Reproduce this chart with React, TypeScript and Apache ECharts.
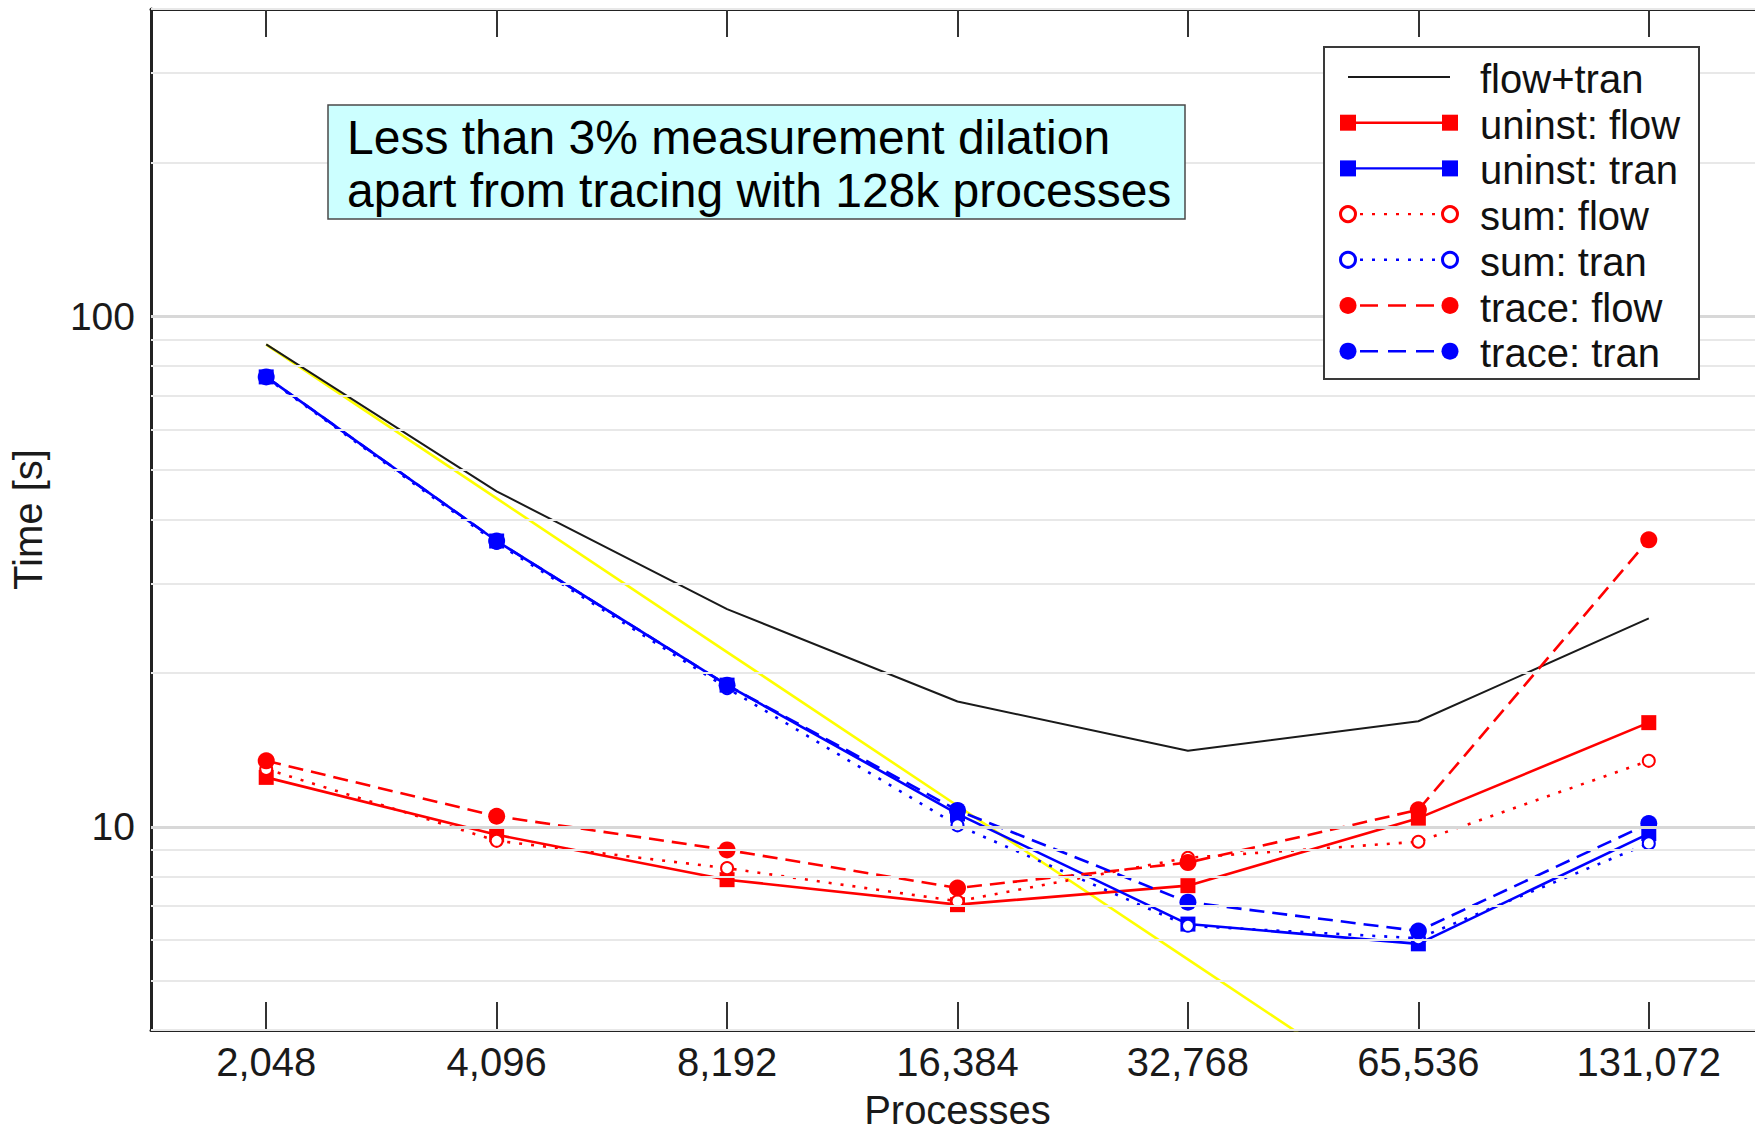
import React, { useEffect, useRef } from "react";
import * as echarts from "echarts";

// ---------------- data ----------------
const categories = ["2,048", "4,096", "8,192", "16,384", "32,768", "65,536", "131,072"];
const flowTran = [88.1, 45.4, 26.7, 17.6, 14.1, 16.1, 25.6];
const idealScaling = [88, 44, 22, 11, 5.5, 2.75];
const uninstFlow = [12.5, 9.65, 7.88, 7.04, 7.67, 10.4, 16.0];
const uninstTran = [76.1, 36.3, 18.95, 10.6, 6.45, 5.9, 9.7];
const sumFlow = [12.98, 9.39, 8.3, 7.15, 8.7, 9.35, 13.47];
const sumTran = [75.8, 36.0, 18.7, 10.07, 6.4, 6.05, 9.28];
const traceFlow = [13.47, 10.49, 9.01, 7.59, 8.51, 10.8, 36.5];
const traceTran = [76.1, 36.3, 18.95, 10.77, 7.12, 6.25, 10.15];
const yLabelTicks = [10, 100];
const yMinorGrid = [4, 5, 6, 7, 8, 9, 20, 30, 40, 50, 60, 70, 80, 90, 200, 300, 400];
const annotationLines = [
  "Less than 3% measurement dilation",
  "apart from tracing with 128k processes",
];
const xAxisName = "Processes";
const yAxisName = "Time [s]";

// ---------------- styles ----------------
const FONT = '"Liberation Sans", Arial, Helvetica, sans-serif';
const RED = "#ff0000";
const BLUE = "#0000ff";
const BLACK = "#1a1a1a";
const DASH = [15, 8];
const DOT = [3, 9];
const TOP_Z = 100;

type Def = {
  name: string;
  data: number[];
  color: string;
  dash: number[] | null;
  marker: "none" | "square" | "dot" | "ring";
  width: number;
};

const seriesDefs: Def[] = [
  { name: "flow+tran", data: flowTran, color: BLACK, dash: null, marker: "none", width: 2 },
  { name: "uninst: flow", data: uninstFlow, color: RED, dash: null, marker: "square", width: 2.6 },
  { name: "uninst: tran", data: uninstTran, color: BLUE, dash: null, marker: "square", width: 2.6 },
  { name: "sum: flow", data: sumFlow, color: RED, dash: DOT, marker: "ring", width: 2.6 },
  { name: "sum: tran", data: sumTran, color: BLUE, dash: DOT, marker: "ring", width: 2.6 },
  { name: "trace: flow", data: traceFlow, color: RED, dash: DASH, marker: "dot", width: 2.6 },
  { name: "trace: tran", data: traceTran, color: BLUE, dash: DASH, marker: "dot", width: 2.6 },
];

function symbolFor(m: Def["marker"]) {
  if (m === "square") return { symbol: "rect", symbolSize: 15 };
  if (m === "dot") return { symbol: "circle", symbolSize: 17 };
  if (m === "ring") return { symbol: "emptyCircle", symbolSize: 12 };
  return { symbol: "none", symbolSize: 0 };
}

function buildLegend() {
  const box = { x: 1324, y: 47, w: 375, h: 332 };
  const rowY0 = 77;
  const rowStep = 45.7;
  const x1 = 1348;
  const x2 = 1450;
  const els: any[] = [
    {
      type: "rect",
      z: TOP_Z,
      shape: { x: box.x, y: box.y, width: box.w, height: box.h },
      style: { fill: "#ffffff", stroke: "#3a3a3a", lineWidth: 2 },
    },
  ];
  seriesDefs.forEach((d, i) => {
    const y = rowY0 + i * rowStep;
    els.push({
      type: "line",
      z: TOP_Z + 1,
      shape: { x1, y1: y, x2, y2: y },
      style: {
        stroke: d.color,
        lineWidth: d.marker === "none" ? 2 : 2.4,
        lineDash: d.dash ? (d.dash === DASH ? [18, 10] : [3, 9]) : null,
        lineDashOffset: d.dash === DASH ? -12 : 0,
      },
    });
    [x1, x2].forEach((cx) => {
      if (d.marker === "square") {
        els.push({
          type: "rect",
          z: TOP_Z + 2,
          shape: { x: cx - 8, y: y - 8, width: 16, height: 16 },
          style: { fill: d.color },
        });
      } else if (d.marker === "dot") {
        els.push({ type: "circle", z: TOP_Z + 2, shape: { cx, cy: y, r: 8.5 }, style: { fill: d.color } });
      } else if (d.marker === "ring") {
        els.push({
          type: "circle",
          z: TOP_Z + 2,
          shape: { cx, cy: y, r: 7.5 },
          style: { fill: "#ffffff", stroke: d.color, lineWidth: 3 },
        });
      }
    });
    els.push({
      type: "text",
      z: TOP_Z + 2,
      x: 1480,
      y: y + 2,
      style: {
        text: d.name,
        fontSize: 40,
        fontFamily: FONT,
        fill: "#111111",
        verticalAlign: "middle",
        align: "left",
      },
    });
  });
  return els;
}

function buildAnnotation() {
  return [
    {
      type: "rect",
      z: TOP_Z,
      shape: { x: 328, y: 105, width: 857, height: 114 },
      style: { fill: "#ccffff", stroke: "#4a4a4a", lineWidth: 1.5 },
    },
    ...annotationLines.map((t, i) => ({
      type: "text",
      z: TOP_Z + 1,
      x: 347,
      y: 137 + i * 53.5,
      style: {
        text: t,
        fontSize: 48,
        fontFamily: FONT,
        fill: "#000000",
        verticalAlign: "middle",
        align: "left",
      },
    })),
  ];
}

const axisLineStyle = { color: "#222222", width: 3 };
const tickStyle = { show: true, inside: true, length: 28, alignWithLabel: true, lineStyle: { color: "#333333", width: 2 } };

function buildOption() {
  const gridLineData: any[] = [
    ...yMinorGrid.map((v) => ({ yAxis: v })),
    ...yLabelTicks.map((v) => ({ yAxis: v, lineStyle: { color: "#d8d8d8", width: 3, type: "solid" } })),
  ];
  const series: any[] = [
    {
      type: "line",
      name: "grid",
      data: [],
      silent: true,
      z: 0,
      markLine: {
        silent: true,
        symbol: ["none", "none"],
        label: { show: false },
        lineStyle: { color: "#e8e8e8", width: 2, type: "solid" },
        emphasis: { disabled: true },
        data: gridLineData,
      },
    },
    {
      type: "line",
      name: "ideal",
      data: idealScaling,
      symbol: "none",
      z: 1,
      lineStyle: { color: "#ffff00", width: 2.6 },
      silent: true,
    },
    ...seriesDefs.map((d, i) => {
      const s = symbolFor(d.marker);
      return {
        type: "line",
        name: d.name,
        data: d.data,
        symbol: s.symbol,
        symbolSize: s.symbolSize,
        showAllSymbol: true,
        z: i === 0 ? 2 : 3,
        lineStyle: { color: d.color, width: d.width, type: d.dash ? d.dash : "solid" },
        itemStyle: {
          color: d.color,
          borderColor: d.color,
          borderWidth: d.marker === "ring" ? 3 : 0,
        },
        silent: true,
      };
    }),
  ];

  return {
    animation: false,
    backgroundColor: "#ffffff",
    textStyle: { fontFamily: FONT },
    grid: { left: 151, right: 16, top: 9, bottom: 97, containLabel: false },
    xAxis: [
      {
        type: "category",
        data: categories,
        position: "bottom",
        boundaryGap: true,
        axisLine: { show: true, lineStyle: axisLineStyle },
        axisTick: tickStyle,
        axisLabel: { fontSize: 40, color: "#1a1a1a", margin: 12, fontFamily: FONT, interval: 0 },
        splitLine: { show: false },
        name: xAxisName,
        nameLocation: "middle",
        nameGap: 60,
        nameTextStyle: { fontSize: 40, color: "#1a1a1a", fontFamily: FONT },
      },
      {
        type: "category",
        data: categories,
        position: "top",
        boundaryGap: true,
        axisLine: { show: true, lineStyle: axisLineStyle },
        axisTick: tickStyle,
        axisLabel: { show: false },
        splitLine: { show: false },
      },
    ],
    yAxis: {
      type: "log",
      logBase: 10,
      min: 4,
      max: 400,
      axisLine: { show: true, lineStyle: axisLineStyle },
      axisTick: { show: false },
      splitLine: { show: false },
      axisLabel: {
        fontSize: 39,
        color: "#1a1a1a",
        margin: 16,
        fontFamily: FONT,
        showMinLabel: false,
        showMaxLabel: false,
        formatter: (v: number) => {
          const hit = yLabelTicks.find((t) => Math.abs(v - t) < 1e-6 * t);
          return hit !== undefined ? String(hit) : "";
        },
      },
      name: yAxisName,
      nameLocation: "middle",
      nameGap: 103,
      nameTextStyle: { fontSize: 40, color: "#1a1a1a", fontFamily: FONT },
    },
    series,
    graphic: { elements: [...buildAnnotation(), ...buildLegend()] },
  };
}

export default function App() {
  const ref = useRef<HTMLDivElement>(null);
  useEffect(() => {
    if (!ref.current) return;
    const chart = echarts.init(ref.current, null, { renderer: "svg" });
    chart.setOption(buildOption() as any);
    return () => chart.dispose();
  }, []);
  return (
    <div
      style={{
        position: "fixed",
        left: 0,
        top: 0,
        width: 1755,
        height: 1135,
        overflow: "hidden",
        background: "#ffffff",
      }}
    >
      <div ref={ref} style={{ width: 1780, height: 1135 }} />
    </div>
  );
}
